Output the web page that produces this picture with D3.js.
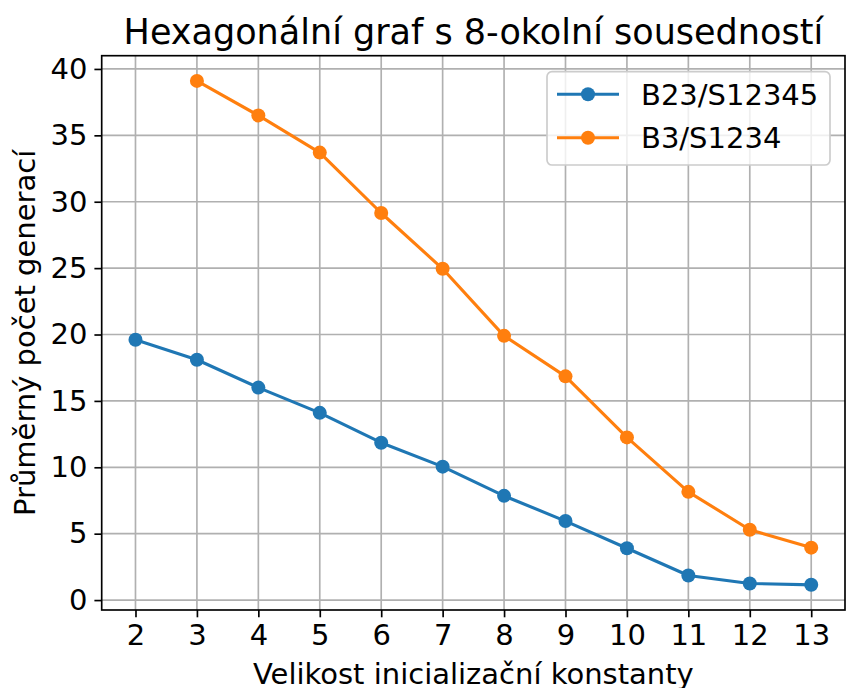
<!DOCTYPE html>
<html>
<head>
  <meta charset="utf-8">
  <style>
    body { margin: 0; background: #fff; }
    text { font-family: "DejaVu Sans", sans-serif; fill: #000; }
    .grid line { stroke: #b0b0b0; stroke-width: 1.67px; }
    .axis path, .axis line { stroke: #000; stroke-width: 1.67px; }
  </style>
</head>
<body>
  <script src="https://cdn.jsdelivr.net/npm/d3@7/dist/d3.min.js"></script>
  <script>
    // data
    const sizes = [2, 3, 4, 5, 6, 7, 8, 9, 10, 11, 12, 13];
    const seriesNames = ["B23/S12345", "B3/S1234"];
    const seriesColors = ["#1f77b4", "#ff7f0e"];
    const b23Values = [19.6, 18.1, 16.0, 14.1, 11.85, 10.05, 7.85, 5.95, 3.9, 1.85, 1.25, 1.15];
    const b3Values = [null, 39.1, 36.5, 33.7, 29.15, 24.95, 19.9, 16.85, 12.25, 8.15, 5.3, 3.95];
    const yTicks = [0, 5, 10, 15, 20, 25, 30, 35, 40];

    const W = 848, H = 688;
    const margin = { top: 55.7, right: 3, bottom: 78, left: 101.7 };
    const innerW = W - margin.left - margin.right;
    const innerH = H - margin.top - margin.bottom;
    const markerR = 7;

    const series = [b23Values, b3Values].map((vals, i) => ({
      name: seriesNames[i],
      color: seriesColors[i],
      points: sizes.map((s, j) => ({ x: s, y: vals[j] })).filter(p => p.y != null)
    }));

    // matplotlib style 5% margins
    const xMin = d3.min(sizes), xMax = d3.max(sizes);
    const allY = series.flatMap(s => s.points.map(p => p.y));
    const yMin = d3.min(allY), yMax = d3.max(allY);
    const xPad = (xMax - xMin) * 0.05, yPad = (yMax - yMin) * 0.05;

    const xScale = d3.scaleLinear().domain([xMin - xPad, xMax + xPad]).range([0, innerW]);
    const yScale = d3.scaleLinear().domain([yMin - yPad, yMax + yPad]).range([innerH, 0]);

    const svg = d3.select("body").append("svg")
      .attr("width", W).attr("height", H);
    const g = svg.append("g").attr("transform", `translate(${margin.left},${margin.top})`);

    // grid
    g.append("g").attr("class", "grid")
      .selectAll("line.v").data(sizes).enter().append("line")
      .attr("x1", d => xScale(d)).attr("x2", d => xScale(d))
      .attr("y1", 0).attr("y2", innerH);
    g.append("g").attr("class", "grid")
      .selectAll("line.h").data(yTicks).enter().append("line")
      .attr("y1", d => yScale(d)).attr("y2", d => yScale(d))
      .attr("x1", 0).attr("x2", innerW);

    // lines + markers
    const line = d3.line().x(d => xScale(d.x)).y(d => yScale(d.y));
    series.forEach(s => {
      g.append("path").datum(s.points)
        .attr("d", line).attr("fill", "none")
        .attr("stroke", s.color).attr("stroke-width", 3.1)
        .attr("stroke-linejoin", "round").attr("stroke-linecap", "square");
      g.append("g").selectAll("circle").data(s.points).enter().append("circle")
        .attr("cx", d => xScale(d.x)).attr("cy", d => yScale(d.y))
        .attr("r", markerR).attr("fill", s.color);
    });

    // axes
    const xAxis = d3.axisBottom(xScale).tickValues(sizes).tickSize(7.3).tickPadding(7).tickSizeOuter(0);
    const yAxis = d3.axisLeft(yScale).tickValues(yTicks).tickSize(7.3).tickPadding(7).tickSizeOuter(0);
    g.append("g").attr("class", "axis").attr("transform", `translate(0,${innerH})`).call(xAxis)
      .call(a => a.select(".domain").remove())
      .selectAll("text").attr("font-size", 29).attr("font-family", "DejaVu Sans").attr("fill", "#000");
    g.append("g").attr("class", "axis").call(yAxis)
      .call(a => a.select(".domain").remove())
      .selectAll("text").attr("font-size", 29).attr("font-family", "DejaVu Sans").attr("fill", "#000");

    // frame
    g.append("rect").attr("x", 0).attr("y", 0).attr("width", innerW).attr("height", innerH)
      .attr("fill", "none").attr("stroke", "#000").attr("stroke-width", 1.67);

    // title and labels
    svg.append("text").attr("x", margin.left + innerW / 2).attr("y", 44)
      .attr("text-anchor", "middle").attr("font-size", 35)
      .text("Hexagonální graf s 8-okolní sousedností");
    svg.append("text").attr("x", margin.left + innerW / 2).attr("y", 684)
      .attr("text-anchor", "middle").attr("font-size", 29)
      .text("Velikost inicializační konstanty");
    svg.append("text")
      .attr("transform", `translate(35,${margin.top + innerH / 2})rotate(-90)`)
      .attr("text-anchor", "middle").attr("font-size", 29)
      .text("Průměrný počet generací");

    // legend
    const leg = svg.append("g").attr("transform", "translate(547,71.7)");
    leg.append("rect").attr("width", 283).attr("height", 93.3).attr("rx", 5)
      .attr("fill", "#fff").attr("fill-opacity", 0.8)
      .attr("stroke", "#cccccc").attr("stroke-width", 1.67);
    series.forEach((s, i) => {
      const row = leg.append("g").attr("transform", `translate(0,${22.6 + i * 43.4})`);
      row.append("line").attr("x1", 10).attr("x2", 72).attr("y1", 0).attr("y2", 0)
        .attr("stroke", s.color).attr("stroke-width", 3.1);
      row.append("circle").attr("cx", 41).attr("cy", 0).attr("r", markerR).attr("fill", s.color);
      row.append("text").attr("x", 94).attr("y", 0).attr("dy", "0.36em")
        .attr("font-size", 29).text(s.name);
    });
  </script>
</body>
</html>
